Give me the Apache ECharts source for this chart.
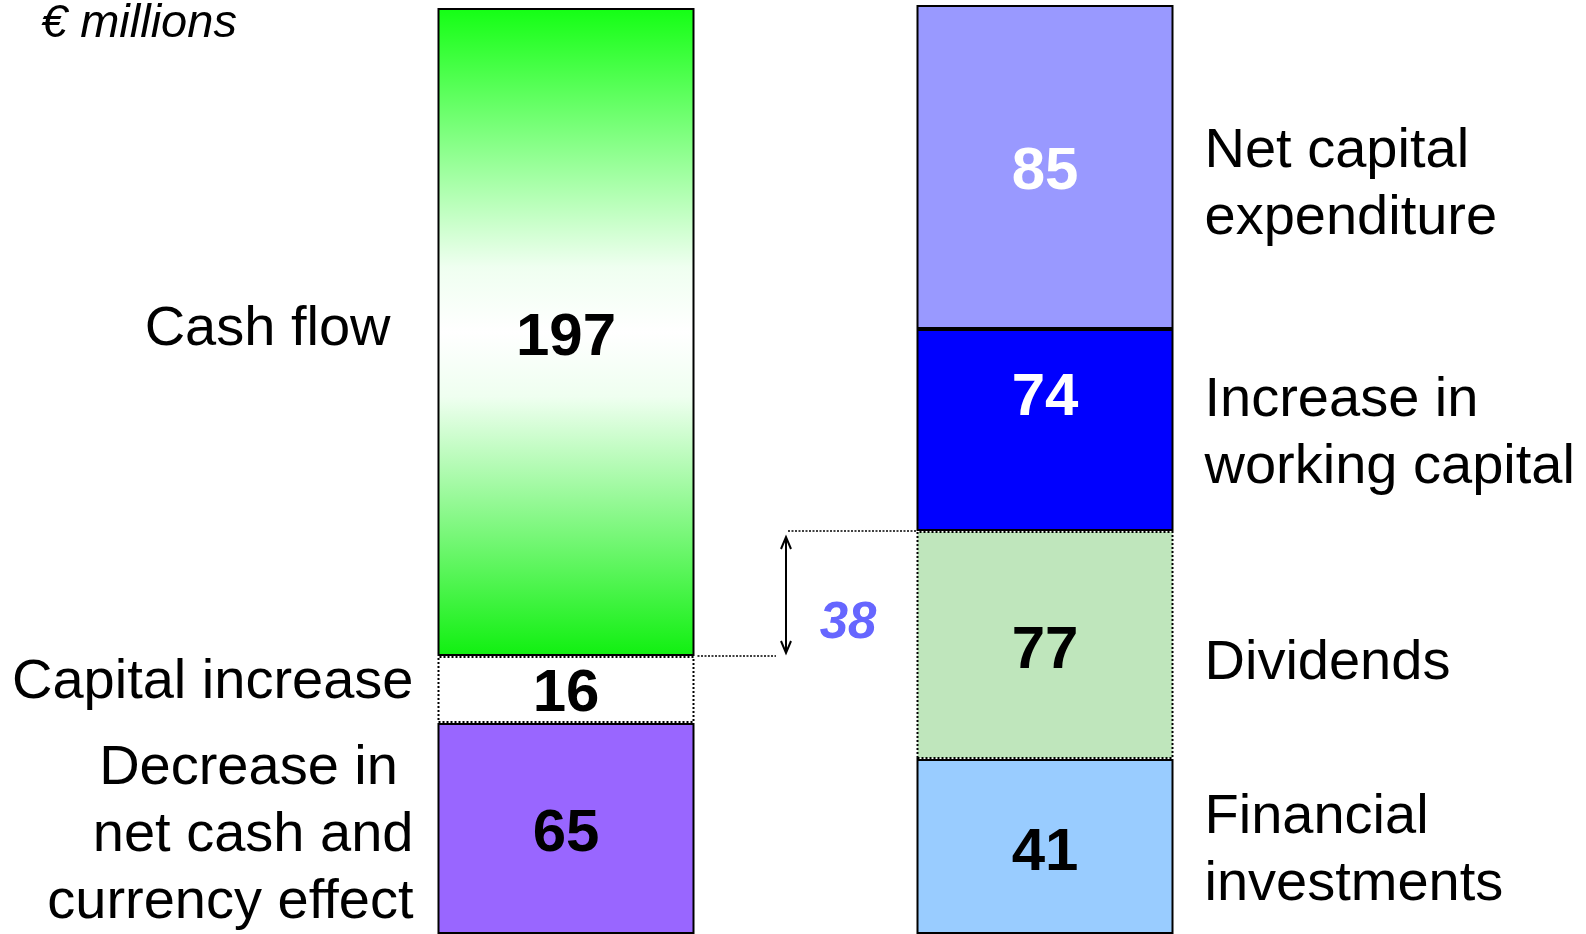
<!DOCTYPE html>
<html>
<head>
<meta charset="utf-8">
<script src="https://cdn.jsdelivr.net/npm/echarts@6/dist/echarts.min.js"></script>
<style>
  html, body { margin: 0; padding: 0; background: #fff; }
  #main { width: 1586px; height: 934px; }
</style>
</head>
<body>
<div id="main"></div>
<script>
// left column (sources), bottom to top
var leftNames = ['Decrease in \nnet cash and\ncurrency effect', 'Capital increase', 'Cash flow'];
var leftValues = [65, 16, 197];
var leftHeights = [211, 67, 648];   // segment heights as drawn (chart is schematic)

// right column (uses), bottom to top
var rightNames = ['Financial\ninvestments', 'Dividends', 'Increase in\nworking capital', 'Net capital\nexpenditure'];
var rightValues = [41, 77, 74, 85];
var rightHeights = [175, 228, 202, 324];

var gapLabel = '38';
var unitLabel = '€ millions';

var FONT = '"Liberation Sans", Arial, sans-serif';
var BAR_W = 257;

var greenGrad = {
  type: 'linear', x: 0, y: 0, x2: 0, y2: 1,
  colorStops: [
    { offset: 0, color: '#14ff14' },
    { offset: 0.4, color: '#effff0' },
    { offset: 0.5, color: '#ffffff' },
    { offset: 0.6, color: '#effff0' },
    { offset: 1, color: '#10f010' }
  ]
};
// dy / nameDy / nameDx: small nudges of the texts
var leftStyles = [
  { fill: '#9966ff', border: 'solid', text: '#000', dy: 6, nameDy: 7 },
  { fill: '#ffffff', border: 'dotted', text: '#000', dy: 5, nameDy: -7 },
  { fill: greenGrad, border: 'solid', text: '#000', dy: 6, nameDy: -2, nameDx: -23 }
];
var rightStyles = [
  { fill: '#99ccff', border: 'solid', text: '#000', dy: 7, nameDy: 5 },
  { fill: '#bfe6bc', border: 'dotted', text: '#000', dy: 6, nameDy: 19 },
  { fill: '#0000ff', border: 'solid', text: '#fff', dy: -32, nameDy: 4 },
  { fill: '#9999ff', border: 'solid', text: '#fff', dy: 5, nameDy: 18 }
];

var series = [];
// one shared stack so both columns sit in a single slot of their category
function addColumn(cat, values, heights, styles) {
  for (var i = 0; i < values.length; i++) {
    var st = styles[i];
    var item = {
      value: heights[i],
      itemStyle: { color: st.fill, borderColor: '#000', borderWidth: 2, borderType: st.border },
      label: {
        show: true, position: 'inside', formatter: String(values[i]),
        color: st.text, fontSize: 60, fontWeight: 'bold', fontFamily: FONT,
        offset: [0, st.dy || 0]
      }
    };
    var data = cat === 0 ? [item, '-'] : ['-', item];
    series.push({ type: 'bar', stack: 'all', barWidth: BAR_W, data: data, silent: true });
  }
}
addColumn(0, leftValues, leftHeights, leftStyles);
addColumn(1, rightValues, rightHeights, rightStyles);

// name labels beside the columns
var nameData = [];
function addNames(cat, names, heights, styles) {
  var base = 0;
  for (var i = 0; i < names.length; i++) {
    nameData.push({
      cat: cat, y0: base, y1: base + heights[i], text: names[i],
      dx: styles[i].nameDx || 0, dy: styles[i].nameDy || 0
    });
    base += heights[i];
  }
}
addNames(0, leftNames, leftHeights, leftStyles);
addNames(1, rightNames, rightHeights, rightStyles);

series.push({
  type: 'custom',
  silent: true,
  data: nameData.map(function (d) { return [d.cat, d.y0, d.y1]; }),
  renderItem: function (params, api) {
    var d = nameData[params.dataIndex];
    var cat = api.value(0);
    var p = api.coord([cat, (api.value(1) + api.value(2)) / 2]);
    var left = cat === 0;
    return {
      type: 'text',
      style: {
        text: d.text,
        x: (left ? p[0] - BAR_W / 2 - 24 : p[0] + BAR_W / 2 + 31) + d.dx,
        y: p[1] + d.dy,
        align: left ? 'right' : 'left',
        verticalAlign: 'middle',
        fontSize: 56, fontFamily: FONT, lineHeight: 67, fill: '#000'
      }
    };
  }
});

// gap annotation between top of "Capital increase" and top of "Dividends"
var leftLevel = leftHeights[0] + leftHeights[1];
var rightLevel = rightHeights[0] + rightHeights[1];
series.push({
  type: 'custom',
  silent: true,
  data: [[0, leftLevel, rightLevel]],
  renderItem: function (params, api) {
    var a = api.coord([0, api.value(1)]);
    var b = api.coord([1, api.value(2)]);
    var ax = (a[0] + b[0]) / 2 - 19.5;
    var dash = { stroke: '#000', lineWidth: 1.5, lineDash: [2, 1.5] };
    var solid = { stroke: '#000', lineWidth: 2, fill: 'none' };
    var top = b[1] + 6, bot = a[1] - 3;
    return {
      type: 'group',
      children: [
        { type: 'line', shape: { x1: a[0] + BAR_W / 2 + 3, y1: a[1], x2: ax - 10, y2: a[1] }, style: dash },
        { type: 'line', shape: { x1: ax + 2, y1: b[1], x2: b[0] - BAR_W / 2, y2: b[1] }, style: dash },
        { type: 'line', shape: { x1: ax, y1: top, x2: ax, y2: bot }, style: solid },
        { type: 'polyline', shape: { points: [[ax - 5, top + 12], [ax, top], [ax + 5, top + 12]] }, style: solid },
        { type: 'polyline', shape: { points: [[ax - 5, bot - 12], [ax, bot], [ax + 5, bot - 12]] }, style: solid },
        {
          type: 'text',
          style: {
            text: gapLabel, x: ax + 62, y: (a[1] + b[1]) / 2 + 30,
            align: 'center', verticalAlign: 'middle',
            fontSize: 51, fontStyle: 'italic', fontWeight: 'bold', fontFamily: FONT, fill: '#6666ff'
          }
        }
      ]
    };
  }
});

var chart = echarts.init(document.getElementById('main'));
chart.setOption({
  animation: false,
  title: {
    text: unitLabel, left: 41, top: 0, padding: 0,
    textStyle: { fontSize: 47, fontStyle: 'italic', fontWeight: 'normal', fontFamily: FONT, color: '#000' }
  },
  grid: { left: 326.5, right: 301.5, top: 0, bottom: 0 },
  xAxis: { type: 'category', data: ['sources', 'uses'], show: false },
  yAxis: { type: 'value', min: 0, max: 934, show: false },
  series: series
});
</script>
</body>
</html>
